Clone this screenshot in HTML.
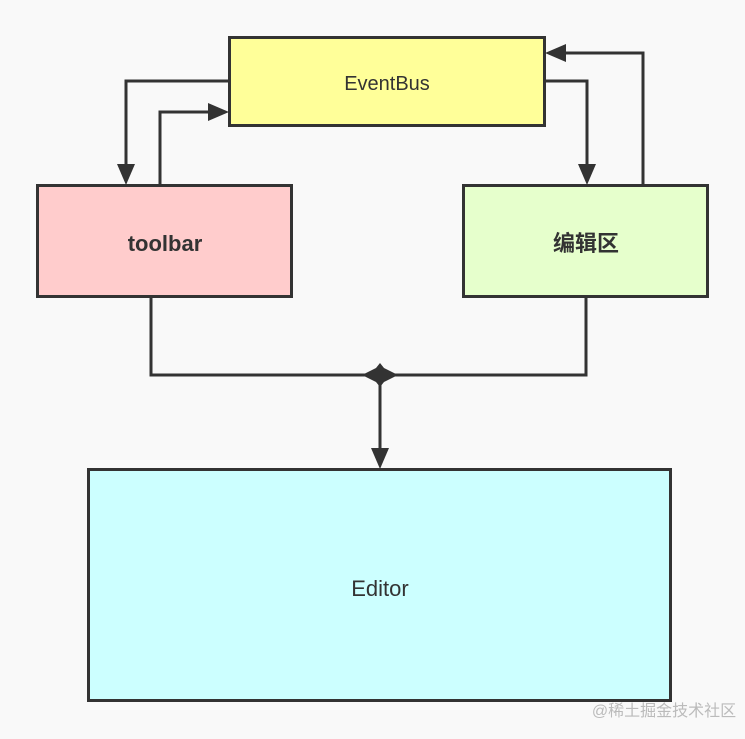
<!DOCTYPE html>
<html><head><meta charset="utf-8"><style>
html,body{margin:0;padding:0;background:#f9f9f9;}
svg{display:block;}
text{font-family:"Liberation Sans","Noto Sans CJK SC",sans-serif;fill:#333;}
</style></head><body>
<svg width="745" height="739" viewBox="0 0 745 739">
<defs>
<marker id="a" markerWidth="10" markerHeight="10" refX="9" refY="5" orient="auto" markerUnits="userSpaceOnUse" viewBox="0 0 10 10">
<path d="M0,0 L10,5 L0,10 z" fill="#333"/>
</marker>
</defs>
<rect width="745" height="739" fill="#f9f9f9"/>
<g stroke="#333" stroke-width="3" fill="none">
<rect x="229.5" y="37.5" width="315" height="88" fill="#ffff99"/>
<rect x="37.5" y="185.5" width="254" height="111" fill="#ffcccc"/>
<rect x="463.5" y="185.5" width="244" height="111" fill="#e6ffcc"/>
<rect x="88.5" y="469.5" width="582" height="231" fill="#ccffff"/>
</g>
<g stroke="#333" stroke-width="3" fill="none">
<polyline points="229,81 126,81 126,168"/>
<polyline points="160,185 160,112 212,112"/>
<polyline points="545,81 587,81 587,168"/>
<polyline points="643,185 643,53 562,53"/>
<polyline points="151,297 151,375 366,375"/>
<polyline points="586,297 586,375 394,375"/>
<line x1="380" y1="375" x2="380" y2="452"/>
</g>
<g fill="#333">
<path d="M117,164 L135,164 L126,185 z"/>
<path d="M208,103 L229,112 L208,121 z"/>
<path d="M578,164 L596,164 L587,185 z"/>
<path d="M566,44 L545,53 L566,62 z"/>
<path d="M371,448 L389,448 L380,469 z"/>
<path d="M362,375 L376,368 L380,363 L384,368 L398,375 L384,382 L380,387 L376,382 z"/>
</g>
<text x="387" y="90" font-size="20" text-anchor="middle">EventBus</text>
<text x="165" y="251" font-size="22" text-anchor="middle" font-weight="bold" fill="#333">toolbar</text>
<text x="586" y="251" font-size="22" text-anchor="middle" font-weight="bold">编辑区</text>
<text x="380" y="596" font-size="22" text-anchor="middle">Editor</text>
<text x="664" y="716" font-size="16" text-anchor="middle" style="fill:#bbb">@稀土掘金技术社区</text>
</svg>
</body></html>
